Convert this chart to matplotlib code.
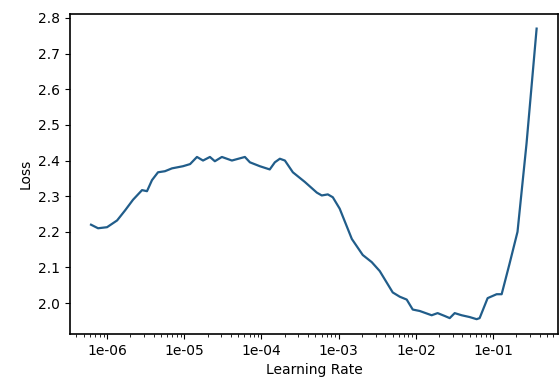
import numpy as np
import matplotlib
matplotlib.use("Agg")
import matplotlib.pyplot as plt
from matplotlib.ticker import FormatStrFormatter

# learning rate finder results
lrs = [6.2e-7, 7.65e-7, 1.0e-6, 1.35e-6, 1.71e-6, 2.17e-6, 2.84e-6, 3.29e-6,
       3.82e-6, 4.57e-6, 5.62e-6, 6.93e-6, 9.62e-6, 1.19e-5, 1.46e-5, 1.75e-5,
       2.15e-5, 2.49e-5, 3.07e-5, 4.14e-5, 6.1e-5, 7.08e-5, 9.53e-5, 1.28e-4,
       1.49e-4, 1.73e-4, 2.01e-4, 2.55e-4, 3.64e-4, 5.21e-4, 6.04e-4, 7.23e-4,
       8.39e-4, 1.03e-3, 1.48e-3, 2.05e-3, 2.68e-3, 3.4e-3, 5.01e-3, 6.18e-3,
       7.6e-3, 9.1e-3, 1.12e-2, 1.6e-2, 1.91e-2, 2.36e-2, 2.74e-2, 3.18e-2,
       3.91e-2, 4.96e-2, 6.12e-2, 6.69e-2, 8.49e-2, 0.111, 0.129, 0.163,
       0.207, 0.271, 0.366]
losses = [2.22, 2.21, 2.213, 2.232, 2.26, 2.29, 2.317, 2.314,
          2.345, 2.367, 2.37, 2.378, 2.384, 2.39, 2.41, 2.40,
          2.41, 2.398, 2.41, 2.40, 2.41, 2.395, 2.384, 2.375,
          2.395, 2.405, 2.40, 2.367, 2.34, 2.31, 2.302, 2.305,
          2.297, 2.265, 2.18, 2.135, 2.115, 2.09, 2.03, 2.018,
          2.01, 1.982, 1.978, 1.966, 1.972, 1.964, 1.958, 1.972,
          1.966, 1.961, 1.955, 1.958, 2.014, 2.025, 2.025, 2.11,
          2.20, 2.448, 2.77]

fig = plt.figure(figsize=(5.59, 3.78), dpi=100)
ax = fig.add_axes([0.125, 0.116, 0.873, 0.847])
ax.plot(lrs, losses, color='#215d8a', linewidth=1.6)
ax.set_xscale('log')
ax.xaxis.set_major_formatter(FormatStrFormatter('%.0e'))
ax.set_xlim(3.3e-7, 0.69)
ax.set_ylim(1.913, 2.811)
ax.set_yticks([2.0, 2.1, 2.2, 2.3, 2.4, 2.5, 2.6, 2.7, 2.8])
ax.set_xlabel('Learning Rate')
ax.set_ylabel('Loss')
for s in ax.spines.values():
    s.set_linewidth(1.2)
fig.savefig('out.png', dpi=100)
